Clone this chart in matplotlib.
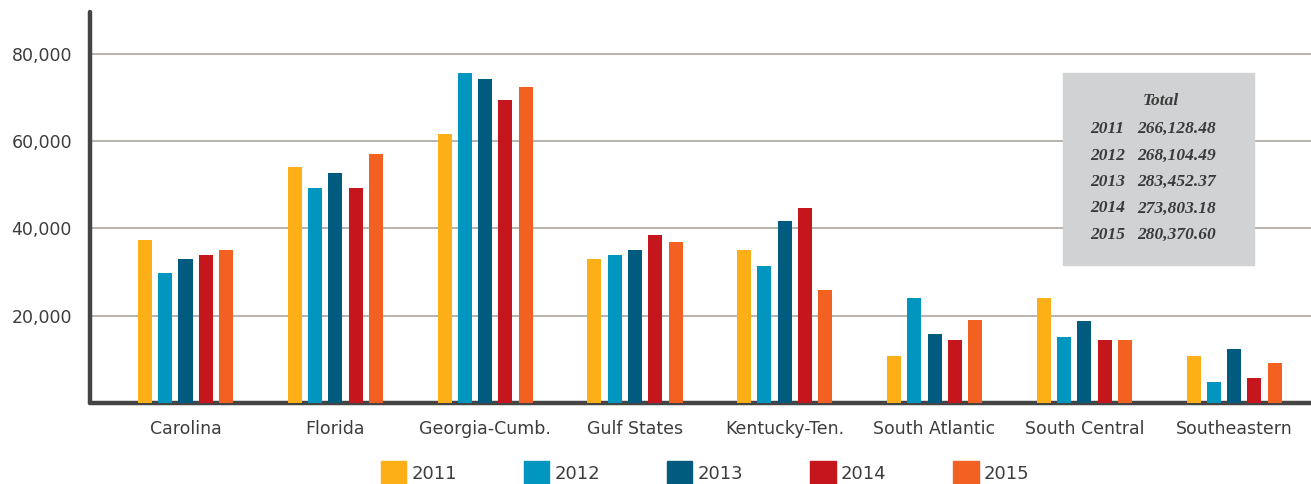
import numpy as np
import matplotlib
matplotlib.use("Agg")
import matplotlib.pyplot as plt
import matplotlib.patches as mpatches

regions = ["Carolina", "Florida", "Georgia-Cumb.", "Gulf States", "Kentucky-Ten.",
           "South Atlantic", "South Central", "Southeastern"]
years = ["2011", "2012", "2013", "2014", "2015"]
vals_2011 = [37300, 54000, 61600, 32900, 34950, 10800, 24100, 10800]
vals_2012 = [29800, 49200, 75700, 34000, 31500, 24100, 15200, 4800]
vals_2013 = [32900, 52700, 74300, 35000, 41600, 15900, 18900, 12400]
vals_2014 = [34000, 49200, 69500, 38400, 44600, 14500, 14500, 5800]
vals_2015 = [35000, 57100, 72500, 36800, 26000, 19100, 14500, 9200]
series = [vals_2011, vals_2012, vals_2013, vals_2014, vals_2015]
colors = ["#fcaf17", "#0096bf", "#005b7f", "#c4161c", "#f26122"]

total_years = ["2011", "2012", "2013", "2014", "2015"]
totals = ["266,128.48", "268,104.49", "283,452.37", "273,803.18", "280,370.60"]

plt.rcParams['font.family'] = ['DejaVu Sans']
txt = "#3d3d3d"

fig = plt.figure(figsize=(13.11, 4.84), dpi=100)
ax = fig.add_axes([90/1311, 1-403/484, 1-90/1311, (403-12)/484])

x = np.arange(len(regions))
step = 0.1355
w = 0.0935
for i, (vals, c) in enumerate(zip(series, colors)):
    ax.bar(x + (i-2)*step, vals, width=w, color=c, zorder=3, label=years[i])

ax.set_xlim(-0.6375, 7.513)
ax.set_ylim(0, 89600)
ax.set_yticks([20000, 40000, 60000, 80000])
ax.set_yticklabels(["20,000", "40,000", "60,000", "80,000"])
ax.set_xticks(x)
ax.set_xticklabels(regions)
ax.tick_params(axis='both', length=0, labelsize=12.5, labelcolor=txt)
ax.tick_params(axis='x', pad=12)
ax.tick_params(axis='y', pad=13)
ax.yaxis.grid(True, color="#aca69d", linewidth=1.2, zorder=1)
for s in ["top", "right"]:
    ax.spines[s].set_visible(False)
for s in ["left", "bottom"]:
    ax.spines[s].set_linewidth(3.2)
    ax.spines[s].set_color("#444444")
    ax.spines[s].set_capstyle("round")

# totals box
fig.add_artist(mpatches.Rectangle((1063/1311, 1-265/484), 191/1311, 192/484,
                                  transform=fig.transFigure, color="#d1d2d4", zorder=5))
serif = dict(family="Liberation Serif", style="italic", weight="bold", color="#3a3a3a",
             fontsize=12.5, zorder=6)
fig.text(1161/1311, 1-101/484, "Total", ha="center", va="center", **serif)
for k, (yr, tot) in enumerate(zip(total_years, totals)):
    yy = 1 - (129 + k*26.5)/484
    fig.text(1090/1311, yy, yr, ha="left", va="center", **serif)
    fig.text(1137/1311, yy, tot, ha="left", va="center", **serif)

handles = [mpatches.Patch(color=c) for c in colors]
fig.legend(handles, years, loc="upper left", bbox_to_anchor=(381/1311, 1-461/484),
           ncol=5, frameon=False, fontsize=13, handlelength=1.4, handleheight=1.6,
           handletextpad=0.3, columnspacing=3.7, borderpad=0, borderaxespad=0,
           labelcolor=txt)

fig.savefig("out.png", dpi=100)
